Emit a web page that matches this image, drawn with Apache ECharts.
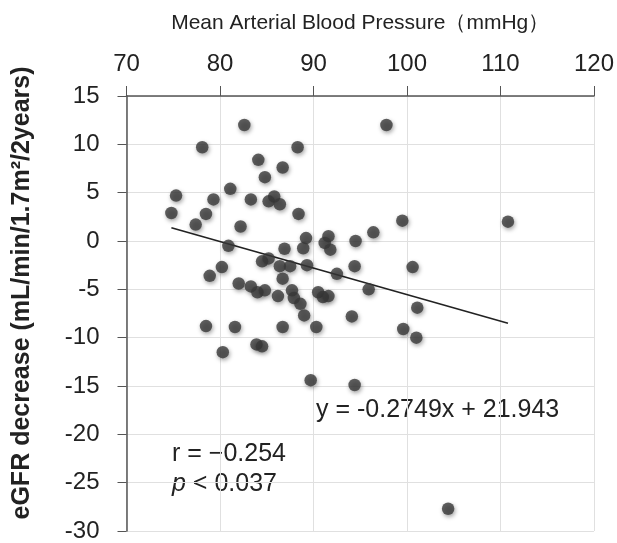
<!DOCTYPE html>
<html>
<head>
<meta charset="utf-8">
<script src="https://cdn.jsdelivr.net/npm/echarts@6/dist/echarts.min.js"></script>
<style>
html, body { margin: 0; padding: 0; background: #fff; }
#main { width: 617px; height: 543px; }
</style>
</head>
<body>
<div id="main"></div>
<script>
// mean arterial pressure (mmHg) vs eGFR decrease
var mapValues = [
	82.6, 78.1, 88.3, 84.1, 86.7, 84.8, 75.3, 79.3, 81.1, 83.3,
	85.8, 85.2, 86.4, 74.8, 78.5, 88.4, 77.4, 82.2, 89.2, 91.6,
	91.2, 91.8, 94.5, 88.9, 86.9, 80.9, 97.8, 99.5, 110.8, 96.4,
	80.2, 78.9, 84.5, 85.2, 86.4, 87.5, 89.3, 86.7, 92.5, 94.4,
	82.0, 83.3, 84.0, 84.8, 86.2, 87.7, 87.9, 88.6, 89.0, 90.5,
	91.0, 91.6, 94.1, 78.5, 81.6, 86.7, 90.3, 83.9, 84.5, 80.3,
	89.7, 94.4, 100.6, 95.9, 101.1, 99.6, 101.0, 104.4
];
var egfrValues = [
	12.0, 9.7, 9.7, 8.4, 7.6, 6.6, 4.7, 4.3, 5.4, 4.3,
	4.6, 4.1, 3.8, 2.9, 2.8, 2.8, 1.7, 1.5, 0.3, 0.5,
	-0.2, -0.9, 0.0, -0.75, -0.8, -0.5, 12.0, 2.1, 2.0, 0.9,
	-2.7, -3.6, -2.1, -1.8, -2.6, -2.6, -2.5, -3.9, -3.4, -2.6,
	-4.4, -4.7, -5.3, -5.1, -5.7, -5.1, -5.9, -6.5, -7.7, -5.3,
	-5.8, -5.7, -7.8, -8.8, -8.9, -8.9, -8.9, -10.7, -10.9, -11.5,
	-14.4, -14.9, -2.7, -5.0, -6.9, -9.1, -10.0, -27.7
];
var xTicks = [70, 80, 90, 100, 110, 120];
var yTicks = [15, 10, 5, 0, -5, -10, -15, -20, -25, -30];
var slope = -0.2749, intercept = 21.943;
var fitRange = [74.8, 110.8];

var points = mapValues.map(function(x, i) { return [x, egfrValues[i]]; });
var fitLine = fitRange.map(function(x) { return [x, slope * x + intercept]; });

var font = '"Liberation Sans", Arial, sans-serif';

var option = {
	backgroundColor: '#fff',
	animation: false,
	grid: {
		left: 126.5,
		right: 23,
		top: 96,
		bottom: 12
	},
	xAxis: {
		type: 'value',
		position: 'top',
		min: xTicks[0],
		max: xTicks[xTicks.length - 1],
		interval: 10,
		name: 'Mean Arterial Blood Pressure\uFF08mmHg\uFF09',
		nameLocation: 'middle',
		nameGap: 62,
		nameTextStyle: { fontFamily: font, fontSize: 21, color: '#222' },
		axisLine: { onZero: false, lineStyle: { color: '#555', width: 1.5 } },
		axisTick: { show: true, inside: false, length: 10, lineStyle: { color: '#555' } },
		axisLabel: { fontFamily: font, fontSize: 24, color: '#222', margin: 20 },
		splitLine: { show: true, lineStyle: { color: '#e0e0e0' } }
	},
	yAxis: {
		type: 'value',
		min: yTicks[yTicks.length - 1],
		max: yTicks[0],
		interval: 5,
		axisLine: { show: true, onZero: false, lineStyle: { color: '#555', width: 1.5 } },
		axisTick: { show: true, inside: false, length: 9, lineStyle: { color: '#555' } },
		axisLabel: { fontFamily: font, fontSize: 24, color: '#222', margin: 27 },
		splitLine: { show: true, lineStyle: { color: '#e0e0e0' } }
	},
	graphic: [
		{ type: 'text', x: 22, y: 293, rotation: Math.PI / 2,
			style: { text: 'eGFR decrease (mL/min/1.7m\u00B2/2years)', font: 'bold 25px ' + font, fill: '#222',
				align: 'center', verticalAlign: 'middle' } },
		{ type: 'text', left: 316, top: 398, style: { text: 'y = -0.2749x + 21.943', font: '25px ' + font, fill: '#222' } },
		{ type: 'text', left: 172, top: 442, style: { text: 'r = \u22120.254', font: '25px ' + font, fill: '#222' } },
		{ type: 'text', left: 172, top: 472, style: { text: '{i|p} < 0.037', font: '25px ' + font, fill: '#222',
			rich: { i: { fontStyle: 'italic', fontSize: 25, fontFamily: font, fill: '#222' } } } }
	],
	series: [
		{
			type: 'line',
			data: fitLine,
			symbol: 'none',
			lineStyle: { color: '#222', width: 1.6 },
			z: 3
		},
		{
			type: 'scatter',
			data: points,
			symbolSize: 12.5,
			itemStyle: {
				color: '#383838',
				shadowBlur: 4,
				shadowColor: 'rgba(0,0,0,0.45)',
				shadowOffsetX: 1,
				shadowOffsetY: 2
			},
			z: 4
		}
	]
};

var chart = echarts.init(document.getElementById('main'));
chart.setOption(option);
</script>
</body>
</html>
